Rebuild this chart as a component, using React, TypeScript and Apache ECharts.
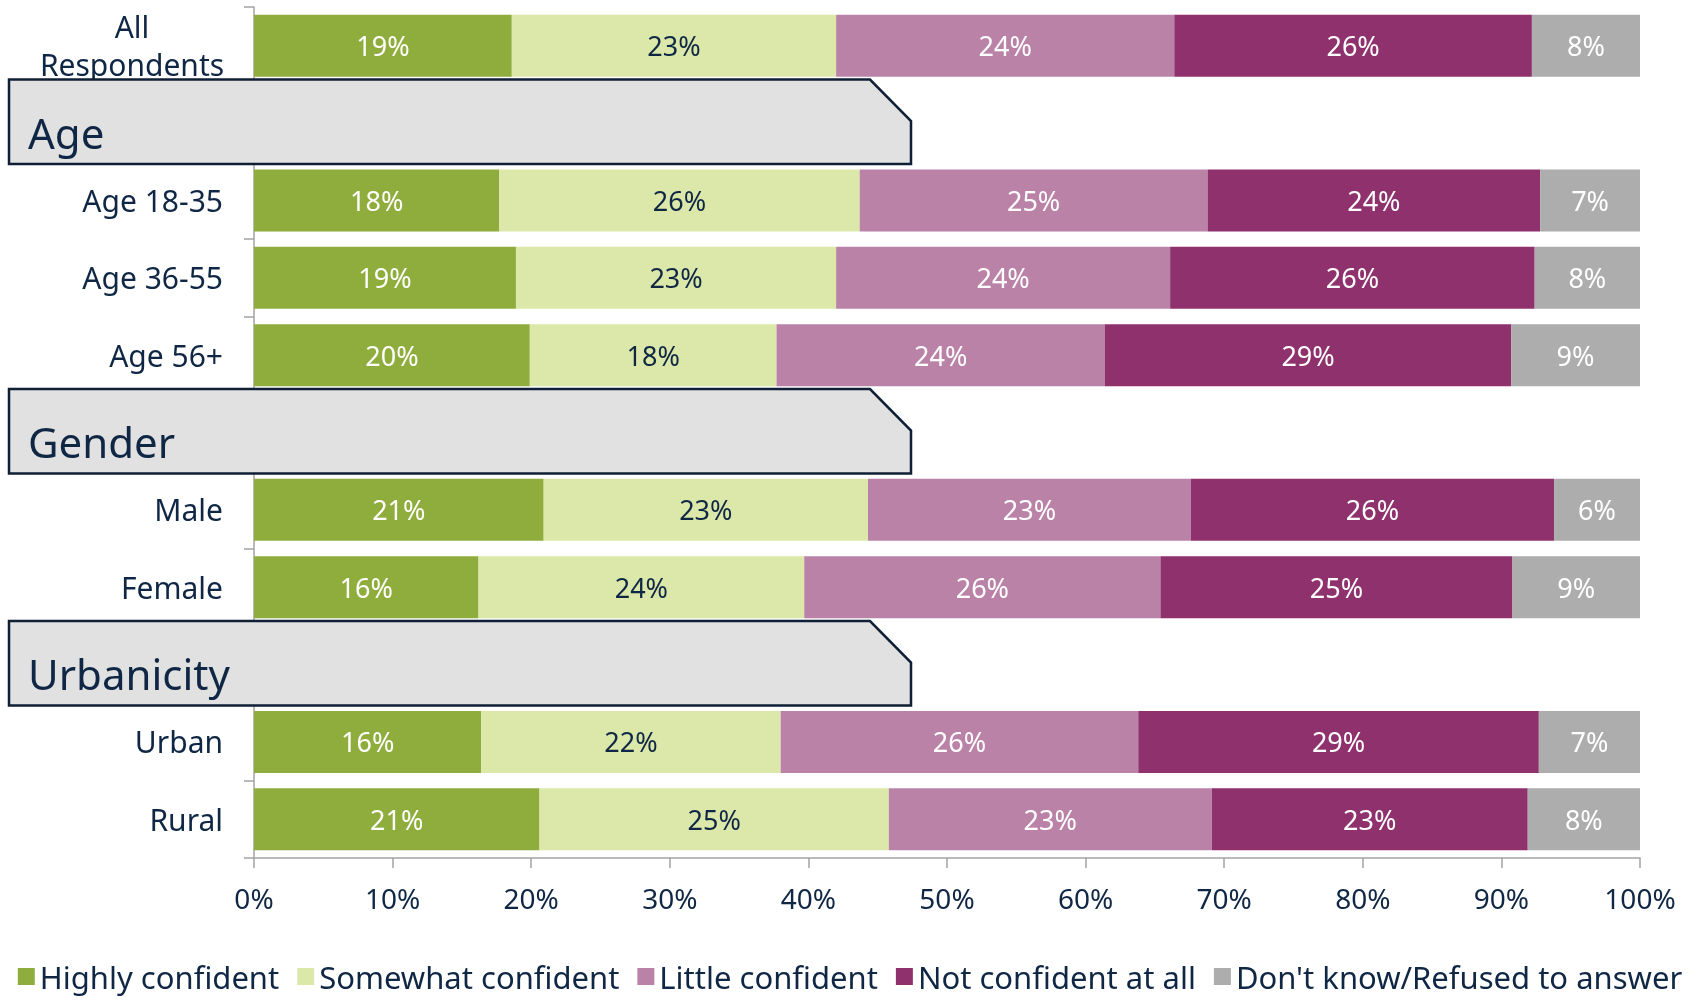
import React, { useEffect, useRef } from "react";
import * as echarts from "echarts";

const categories = [
  "All Respondents",
  "Age",
  "Age 18-35",
  "Age 36-55",
  "Age 56+",
  "Gender",
  "Male",
  "Female",
  "Urbanicity",
  "Urban",
  "Rural",
];
const headerRows = ["Age", "Gender", "Urbanicity"];
const seriesNames = [
  "Highly confident",
  "Somewhat confident",
  "Little confident",
  "Not confident at all",
  "Don't know/Refused to answer",
];
const highlyConfident = [18.6, null, 17.7, 18.9, 19.9, null, 20.9, 16.2, null, 16.4, 20.6];
const somewhatConfident = [23.4, null, 26.0, 23.1, 17.8, null, 23.4, 23.5, null, 21.6, 25.2];
const littleConfident = [24.4, null, 25.1, 24.1, 23.7, null, 23.3, 25.7, null, 25.8, 23.3];
const notConfident = [25.8, null, 24.0, 26.3, 29.3, null, 26.2, 25.4, null, 28.9, 22.8];
const dontKnow = [7.8, null, 7.2, 7.6, 9.3, null, 6.2, 9.2, null, 7.3, 8.1];
const xMin = 0;
const xMax = 100;
const xInterval = 10;

const seriesValues = [highlyConfident, somewhatConfident, littleConfident, notConfident, dontKnow];
const seriesColors = ["#8fad3d", "#dce8a9", "#bb82a8", "#8e316c", "#adadad"];
const labelColors = ["#ffffff", "#0f2744", "#ffffff", "#ffffff", "#ffffff"];
const NAVY = "#0f2744";
const AXIS = "#a3a3a3";
const FONT = "'Noto Sans', 'Open Sans', sans-serif";

export default function App() {
  const ref = useRef<HTMLDivElement>(null);

  useEffect(() => {
    if (!ref.current) return;
    const chart = echarts.init(ref.current, null, { renderer: "svg" });
    const option: any = {
      animation: false,
      textStyle: { fontFamily: FONT },
      grid: { left: 254, right: 60, top: 7, bottom: 144, containLabel: false },
      legend: {
        data: seriesNames,
        left: "center",
        top: 956,
        itemWidth: 17,
        itemHeight: 17,
        itemGap: 18,
        icon: "rect",
        textStyle: { fontFamily: FONT, fontSize: 31, color: NAVY, lineHeight: 31 },
      },
      xAxis: {
        type: "value",
        min: xMin,
        max: xMax,
        interval: xInterval,
        axisLine: { show: true, lineStyle: { color: AXIS, width: 1.5 } },
        axisTick: { show: true, length: 10, lineStyle: { color: AXIS, width: 1.5 } },
        splitLine: { show: false },
        axisLabel: {
          formatter: "{value}%",
          fontFamily: FONT,
          fontSize: 28,
          color: NAVY,
          margin: 26,
        },
      },
      yAxis: {
        type: "category",
        inverse: true,
        data: categories,
        axisLine: { show: true, lineStyle: { color: AXIS, width: 1.5 } },
        axisTick: { show: true, length: 10, lineStyle: { color: AXIS, width: 1.5 } },
        axisLabel: {
          margin: 31,
          fontFamily: FONT,
          fontSize: 30,
          color: NAVY,
          formatter: (v: string) => {
            if (headerRows.indexOf(v) >= 0) return "";
            if (v === "All Respondents") return "{c|All}\n{c|Respondents}";
            return v;
          },
          rich: {
            c: {
              width: 182,
              align: "center",
              fontFamily: FONT,
              fontSize: 30,
              lineHeight: 38,
              color: NAVY,
            },
          },
        },
      },
      series: seriesNames.map((name, i) => ({
        name,
        type: "bar",
        stack: "total",
        barWidth: 62,
        itemStyle: { color: seriesColors[i] },
        label: {
          show: true,
          position: "inside",
          fontFamily: FONT,
          fontSize: 27,
          color: labelColors[i],
          formatter: (p: any) => (p.value == null ? "" : Math.round(p.value) + "%"),
        },
        data: seriesValues[i].map((v) => (v == null ? "-" : v)),
      })),
    };
    chart.setOption(option);

    const graphics: any[] = [];
    headerRows.forEach((h) => {
      const idx = categories.indexOf(h);
      const cy = chart.convertToPixel({ yAxisIndex: 0 }, idx) as number;
      const top = cy - 43.5;
      const bottom = cy + 41;
      graphics.push({
        type: "polygon",
        z: 100,
        shape: {
          points: [
            [9, top],
            [870, top],
            [911, top + 41.5],
            [911, bottom],
            [9, bottom],
          ],
        },
        style: { fill: "#e1e1e1", stroke: "#0f1f35", lineWidth: 2.5 },
      });
      graphics.push({
        type: "text",
        z: 101,
        x: 28,
        y: cy + 9,
        style: {
          text: h,
          fontFamily: FONT,
          fontSize: 42,
          fill: NAVY,
          align: "left",
          verticalAlign: "middle",
        },
      });
    });
    chart.setOption({ graphic: graphics });

    return () => chart.dispose();
  }, []);

  return (
    <div
      ref={ref}
      style={{ position: "fixed", left: 0, top: 0, width: 1700, height: 1002 }}
    />
  );
}
